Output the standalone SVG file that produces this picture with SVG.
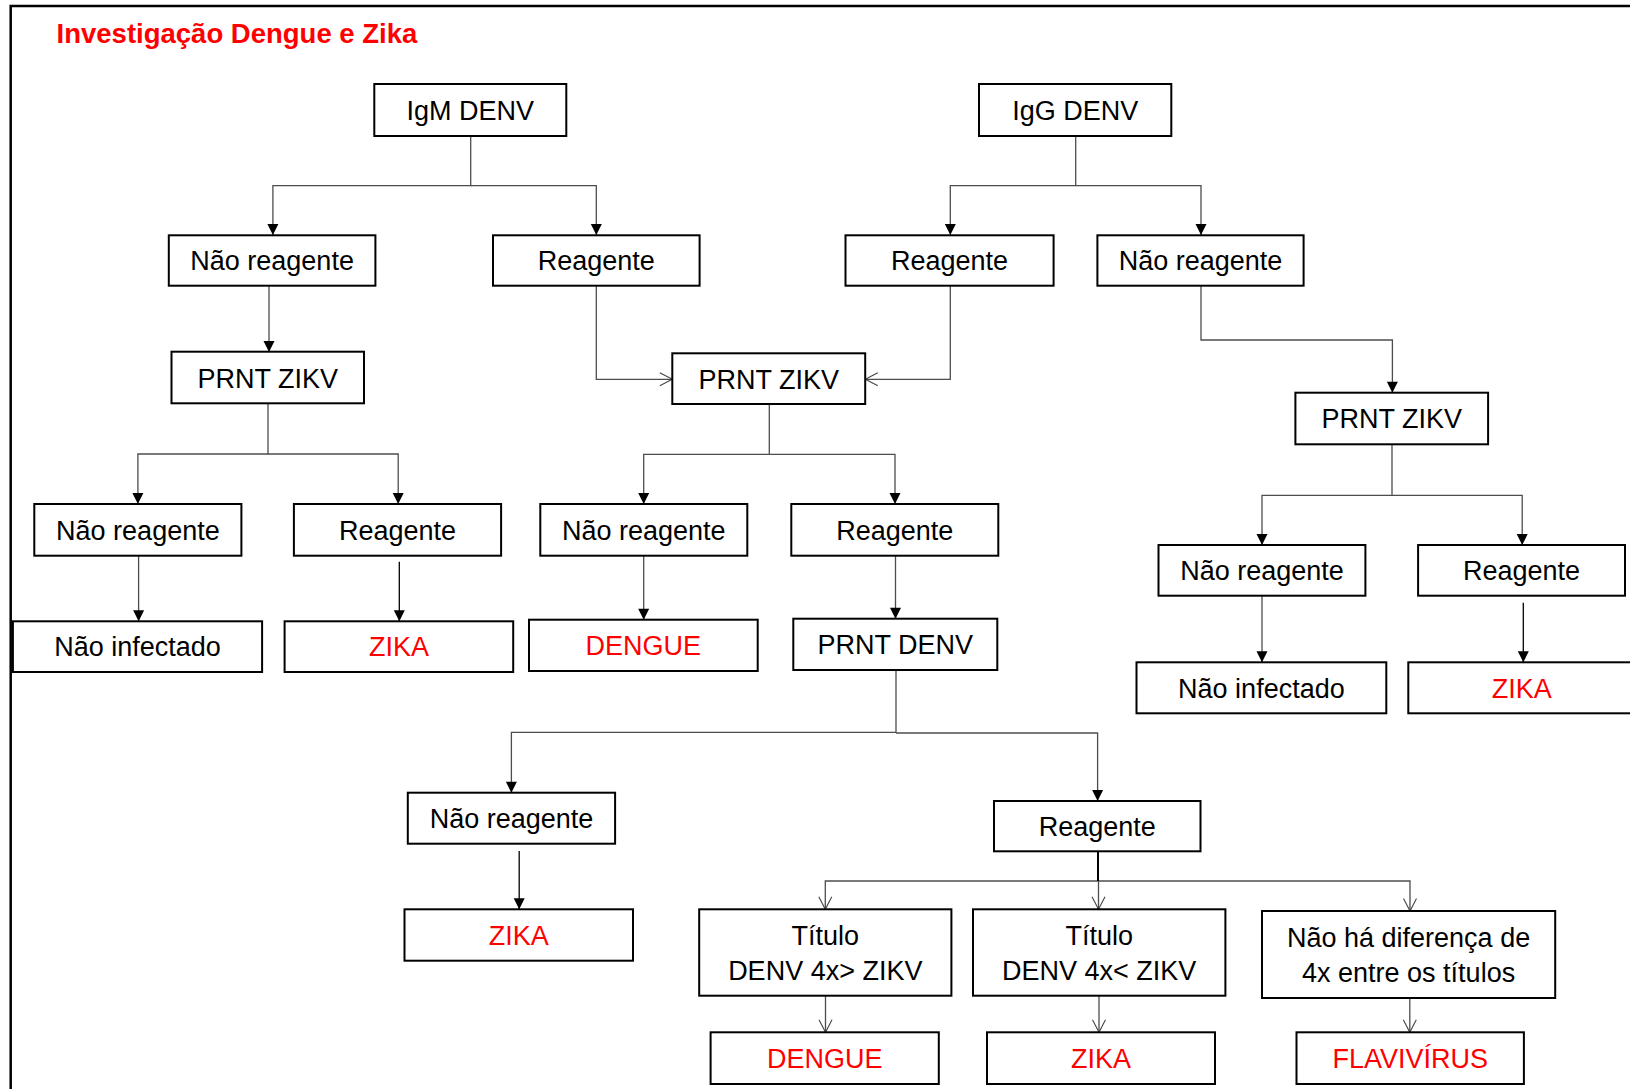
<svg xmlns="http://www.w3.org/2000/svg" width="1630" height="1089" viewBox="0 0 1630 1089">
  <style>
    .box { fill: #ffffff; stroke: #000000; stroke-width: 2; }
    .t { font-family: "Liberation Sans", Arial, sans-serif; font-size: 27px; fill: #000000; text-anchor: middle; }
    .red { fill: #ff0000; }
    .title { font-family: "Liberation Sans", Arial, sans-serif; font-size: 27.5px; font-weight: bold; fill: #ff0000; }
    .c { fill: none; stroke: #4d4d4d; stroke-width: 1.3; }
    .cf { marker-end: url(#fa); }
    .co { marker-end: url(#oa); }
  </style>
  <defs>
    <marker id="fa" markerUnits="userSpaceOnUse" markerWidth="11" markerHeight="11" viewBox="0 0 11 11" refX="11" refY="5.5" orient="auto" overflow="visible">
      <path d="M0,0 L11,5.5 L0,11 z" fill="#000000"/>
    </marker>
    <marker id="oa" markerUnits="userSpaceOnUse" markerWidth="13" markerHeight="14" viewBox="0 0 13 14" refX="12.5" refY="7" orient="auto" overflow="visible">
      <path d="M0,0.5 L12.5,7 L0,13.5" fill="none" stroke="#444444" stroke-width="1.1"/>
    </marker>
  </defs>

  <rect width="1630" height="1089" fill="#ffffff"/>
  <!-- outer frame -->
  <path d="M10.7,1089 V6 H1630" fill="none" stroke="#000000" stroke-width="2.5"/>

  <text class="title" x="56.6" y="42.7">Investigação Dengue e Zika</text>

  <!-- connectors -->
  <g id="connectors">
    <path class="c cf" d="M470.7,136 V185.7 H272.9 V235"/>
    <path class="c cf" d="M470.7,185.7 H596.3 V235"/>
    <path class="c cf" d="M1075.7,136 V185.7 H950.3 V235"/>
    <path class="c cf" d="M1075.7,185.7 H1201 V235"/>

    <path class="c cf" d="M269,286 V352"/>
    <path class="c co" d="M596.3,286 V379.3 H672.3"/>
    <path class="c co" d="M950.3,286 V379.3 H865.3"/>
    <path class="c cf" d="M1201,286 V340 H1392.4 V392.7"/>

    <path class="c cf" d="M268,403.5 V454 H137.9 V504"/>
    <path class="c cf" d="M268,454 H398.2 V504"/>
    <path class="c cf" d="M769.3,404 V454.3 H643.7 V504"/>
    <path class="c cf" d="M769.3,454.3 H895 V504"/>
    <path class="c cf" d="M1392,444.3 V495.3 H1262 V545"/>
    <path class="c cf" d="M1392,495.3 H1522.2 V545"/>

    <path class="c cf" d="M138.6,556 V621.3"/>
    <path class="c cf" d="M399.3,561.7 V621.3" style="stroke:#000000"/>
    <path class="c cf" d="M643.7,556 V619.7"/>
    <path class="c cf" d="M895.5,556 V618.7"/>
    <path class="c cf" d="M1262,596 V662.3"/>
    <path class="c cf" d="M1523.3,602.7 V662.3" style="stroke:#000000"/>

    <path class="c cf" d="M896,670 V732.3 H511.4 V792.7"/>
    <path class="c cf" d="M896,733 H1097.6 V801"/>
    <path class="c cf" d="M519.2,851 V909.3" style="stroke:#000000"/>

    <path class="c co" d="M1098,851.3 V881 H825.3 V909.3"/>
    <path class="c co" d="M1098.5,881 V909.3"/>
    <path class="c co" d="M1098,881 H1410 V911"/>
    <path class="c" d="M1098,851.3 V881" style="stroke:#000000;stroke-width:2"/>

    <path class="c co" d="M825.5,996 V1032.3"/>
    <path class="c co" d="M1099,996 V1032.3"/>
    <path class="c co" d="M1409.8,998 V1032.3"/>
  </g>

  <!-- nodes -->
  <g id="igm-denv"><rect class="box" x="374.3" y="84" width="192" height="52"/><text class="t" x="470.3" y="119.7">IgM DENV</text></g>
  <g id="igg-denv"><rect class="box" x="979" y="84" width="192.3" height="52"/><text class="t" x="1075.2" y="119.7">IgG DENV</text></g>

  <g id="igm-nao-reagente"><rect class="box" x="168.8" y="235.3" width="206.6" height="50.4"/><text class="t" x="272.1" y="270.2">Não reagente</text></g>
  <g id="igm-reagente"><rect class="box" x="493" y="235.3" width="206.6" height="50.4"/><text class="t" x="596.3" y="270.2">Reagente</text></g>
  <g id="igg-reagente"><rect class="box" x="845.5" y="235.3" width="208.1" height="50.4"/><text class="t" x="949.6" y="270.2">Reagente</text></g>
  <g id="igg-nao-reagente"><rect class="box" x="1097.4" y="235.3" width="206.2" height="50.4"/><text class="t" x="1200.5" y="270.2">Não reagente</text></g>

  <g id="prnt-zikv-1"><rect class="box" x="171.5" y="351.7" width="192.5" height="51.6"/><text class="t" x="267.8" y="387.9">PRNT ZIKV</text></g>
  <g id="prnt-zikv-2"><rect class="box" x="672.3" y="353.3" width="192.9" height="50.7"/><text class="t" x="768.8" y="389">PRNT ZIKV</text></g>
  <g id="prnt-zikv-3"><rect class="box" x="1295.4" y="392.7" width="192.7" height="51.6"/><text class="t" x="1391.8" y="428.2">PRNT ZIKV</text></g>

  <g id="p1-nao-reagente"><rect class="box" x="34.3" y="504" width="207.1" height="51.7"/><text class="t" x="137.9" y="539.5">Não reagente</text></g>
  <g id="p1-reagente"><rect class="box" x="293.9" y="504" width="207.2" height="51.7"/><text class="t" x="397.5" y="539.5">Reagente</text></g>
  <g id="p2-nao-reagente"><rect class="box" x="540.3" y="504" width="207" height="51.7"/><text class="t" x="643.8" y="539.5">Não reagente</text></g>
  <g id="p2-reagente"><rect class="box" x="791.3" y="504" width="207" height="51.7"/><text class="t" x="894.8" y="539.5">Reagente</text></g>
  <g id="p3-nao-reagente"><rect class="box" x="1158.5" y="545" width="206.9" height="50.7"/><text class="t" x="1262" y="580">Não reagente</text></g>
  <g id="p3-reagente"><rect class="box" x="1418.1" y="545" width="206.9" height="50.7"/><text class="t" x="1521.5" y="580">Reagente</text></g>

  <g id="p1-nao-infectado"><rect class="box" x="12.9" y="621.3" width="249.2" height="50.7"/><text class="t" x="137.5" y="656.4">Não infectado</text></g>
  <g id="p1-zika"><rect class="box" x="284.6" y="621.3" width="228.6" height="50.7"/><text class="t red" x="398.9" y="656.4">ZIKA</text></g>
  <g id="p2-dengue"><rect class="box" x="529" y="619.7" width="228.7" height="51.3"/><text class="t red" x="643.3" y="655">DENGUE</text></g>
  <g id="prnt-denv"><rect class="box" x="793.3" y="618.7" width="204" height="51.3"/><text class="t" x="895.3" y="654">PRNT DENV</text></g>
  <g id="p3-nao-infectado"><rect class="box" x="1136.5" y="662.3" width="249.8" height="51"/><text class="t" x="1261.4" y="697.5">Não infectado</text></g>
  <g id="p3-zika"><rect class="box" x="1408.3" y="662.3" width="240" height="51"/><text class="t red" x="1521.7" y="697.5">ZIKA</text></g>

  <g id="denv-nao-reagente"><rect class="box" x="407.8" y="792.7" width="207.3" height="51"/><text class="t" x="511.5" y="828">Não reagente</text></g>
  <g id="denv-reagente"><rect class="box" x="994" y="801" width="206.5" height="50.3"/><text class="t" x="1097.2" y="835.9">Reagente</text></g>
  <g id="denv-zika"><rect class="box" x="404.5" y="909.3" width="228.5" height="51.4"/><text class="t red" x="518.7" y="944.7">ZIKA</text></g>

  <g id="titulo-maior"><rect class="box" x="699.2" y="909.3" width="252.2" height="86.4"/><text class="t" x="825.3" y="945">Título</text><text class="t" x="825.3" y="980">DENV 4x&gt; ZIKV</text></g>
  <g id="titulo-menor"><rect class="box" x="973" y="909.3" width="252.4" height="86.4"/><text class="t" x="1099.2" y="945">Título</text><text class="t" x="1099.2" y="980">DENV 4x&lt; ZIKV</text></g>
  <g id="sem-diferenca"><rect class="box" x="1262" y="911" width="293.2" height="87"/><text class="t" x="1408.6" y="946.7">Não há diferença de</text><text class="t" x="1408.6" y="981.7">4x entre os títulos</text></g>

  <g id="res-dengue"><rect class="box" x="710.6" y="1032.3" width="228.2" height="51.7"/><text class="t red" x="824.7" y="1067.8">DENGUE</text></g>
  <g id="res-zika"><rect class="box" x="987" y="1032.3" width="228" height="51.7"/><text class="t red" x="1101" y="1067.8">ZIKA</text></g>
  <g id="res-flavivirus"><rect class="box" x="1296.5" y="1032.3" width="227.4" height="51.7"/><text class="t red" x="1410.2" y="1067.8">FLAVIVÍRUS</text></g>
</svg>
